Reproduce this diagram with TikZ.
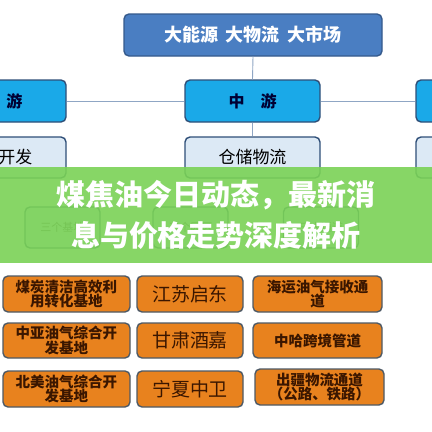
\documentclass[tikz,border=0pt]{standalone}
\usepackage{fontspec}
\newfontfamily\cjk{Noto Sans CJK SC}
\definecolor{topblue}{HTML}{4A7EC2}
\definecolor{topedge}{HTML}{355A8C}
\definecolor{cyanbox}{HTML}{1AA9E8}
\definecolor{darkedge}{HTML}{2F4F78}
\definecolor{lightbox}{HTML}{DCE9F5}
\definecolor{orangebox}{HTML}{E8821E}
\definecolor{orangeedge}{HTML}{4E5A66}
\definecolor{linecol}{HTML}{8FA6C4}
\definecolor{banner}{HTML}{7AD256}
\definecolor{brtext}{HTML}{3A1600}
\tikzset{
  box/.style={rounded corners=5pt, line width=1.4pt, inner sep=0pt, align=center, font=\cjk},
  topbox/.style={box, draw=topedge, fill=topblue, text=white, minimum width=258pt, minimum height=42pt, font=\cjk\bfseries\fontsize{18}{20}\selectfont},
  levelbox/.style={box, draw=darkedge, fill=cyanbox, text=black!80!blue, minimum width=135pt, minimum height=42pt, font=\cjk\bfseries\fontsize{16}{18}\selectfont},
  subbox/.style={box, draw=darkedge, fill=lightbox, text=black, minimum width=135pt, minimum height=41pt, font=\cjk\fontsize{17}{19}\selectfont},
  smallbox/.style={box, draw=darkedge, fill=lightbox, text=black!70, minimum width=75pt, minimum height=41pt, font=\cjk\fontsize{11}{13}\selectfont},
  obox/.style={box, draw=orangeedge, fill=orangebox, text=brtext, minimum height=36pt, font=\cjk\bfseries\fontsize{14.5}{16.5}\selectfont},
  obig/.style={obox, font=\cjk\fontsize{19}{21}\selectfont},
  link/.style={draw=linecol, line width=0.9pt},
}
\begin{document}
\begin{tikzpicture}[x=1pt,y=-1pt]
\useasboundingbox (0,0) rectangle (432,432);
\clip (0,0) rectangle (432,432);
\fill[white] (0,0) rectangle (432,432);
% top
\node[topbox] (top) at (253,35) {大能源\hspace{0.4em}大物流\hspace{0.4em}大市场};
% level
\node[levelbox] (up) at (-1.5,101) {上\hspace{1em}游};
\node[levelbox] (mid) at (252.5,101) {中\hspace{1em}游};
\node[levelbox] (down) at (483.5,101) {};
% sub
\node[subbox] (upsub) at (-1.5,157.5) {资源开发};
\node[subbox] (midsub) at (252.5,157.5) {仓储物流};
\node[subbox] (downsub) at (483.5,157.5) {};
% small row
\node[smallbox] (s1) at (62.5,227.5) {三个基地};
\node[smallbox] (s2) at (190.5,227.5) {三个园区};
\node[smallbox] (s3) at (321,227.5) {三大通道};
% links
\draw[link] (top.south) -- (mid.north);
\draw[link] (mid.west) -- (up.east);
\draw[link] (mid.east) -- (down.west);
\draw[link] (mid.south) -- (midsub.north);
% banner
\fill[banner, fill opacity=0.9] (0,167) rectangle (432,263);
\node[font=\cjk\bfseries\fontsize{29}{31}\selectfont, text=white, inner sep=0pt] (t1) at (216,195) {煤焦油今日动态，最新消};
\node[font=\cjk\bfseries\fontsize{29}{31}\selectfont, text=white, inner sep=0pt] (t2) at (216,235) {息与价格走势深度解析};
% orange boxes
\node[obox, minimum width=127pt] (a1) at (66.5,294) {煤炭清洁高效利\\[-2pt]用转化基地};
\node[obig, minimum width=106pt] (a2) at (190,294) {江苏启东};
\node[obox, minimum width=129pt] (a3) at (317.5,294) {海运油气接收通\\[-2pt]道};
\node[obox, minimum width=127pt, minimum height=35pt] (b1) at (66.5,340.5) {中亚油气综合开\\[-2pt]发基地};
\node[obig, minimum width=106pt, minimum height=35pt] (b2) at (190,340.5) {甘肃酒嘉};
\node[obox, minimum width=129pt, minimum height=35pt] (b3) at (317.5,340.5) {中哈跨境管道};
\node[obox, minimum width=127pt] (c1) at (66.5,389) {北美油气综合开\\[-2pt]发基地};
\node[obig, minimum width=106pt] (c2) at (190,389) {宁夏中卫};
\node[obox, minimum width=129pt] (c3) at (319.5,387) {出疆物流通道\\[-2pt]（公路、铁路）};
\end{tikzpicture}
\end{document}
